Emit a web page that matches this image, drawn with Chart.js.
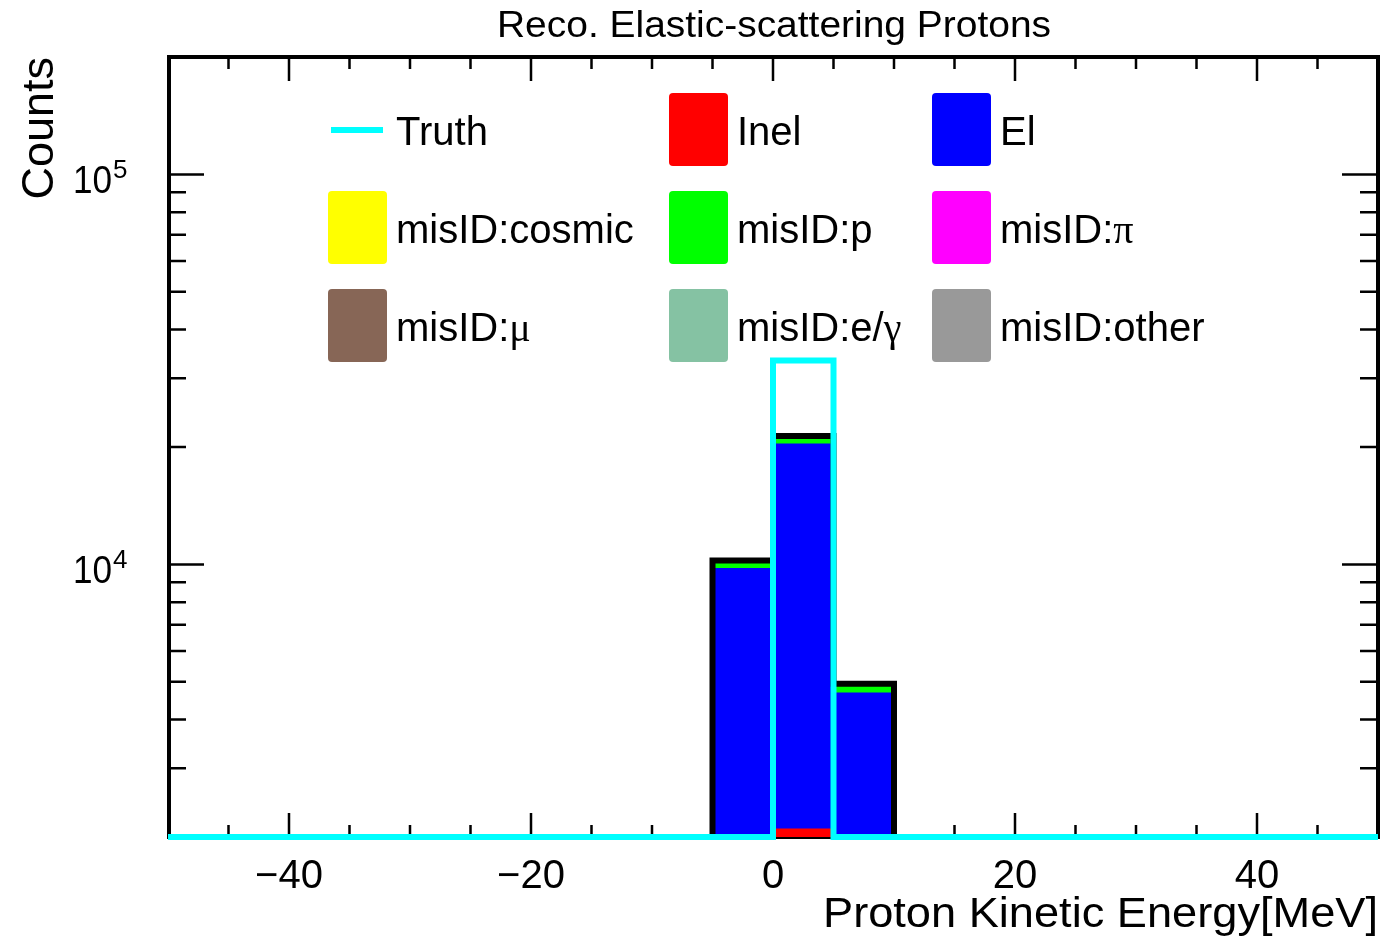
<!DOCTYPE html>
<html><head><meta charset="utf-8">
<script src="https://cdn.jsdelivr.net/npm/chart.js@4.4.1/dist/chart.umd.min.js"></script>
<style>html,body{margin:0;padding:0;background:#fff;}#wrap{width:1384px;height:940px;}</style>
</head><body><div id="wrap"><canvas id="c" width="1384" height="940"></canvas></div>
<script>
// ---- data ----
const binCenters = [-47.5,-42.5,-37.5,-32.5,-27.5,-22.5,-17.5,-12.5,-7.5,-2.5,2.5,7.5,12.5,17.5,22.5,27.5,32.5,37.5,42.5,47.5];
const binLowEdges = [-50,-45,-40,-35,-30,-25,-20,-15,-10,-5,0,5,10,15,20,25,30,35,40,45];
const xMaxEdge = 50;
const inel        = [0,0,0,0,0,0,0,0,0,0,2100,0,0,0,0,0,0,0,0,0];
const el          = [0,0,0,0,0,0,0,0,0,9770,18270,4685,0,0,0,0,0,0,0,0];
const misIDcosmic = [0,0,0,0,0,0,0,0,0,0,0,0,0,0,0,0,0,0,0,0];
const misIDp      = [0,0,0,0,0,0,0,0,0,470,980,255,0,0,0,0,0,0,0,0];
const misIDpi     = [0,0,0,0,0,0,0,0,0,0,0,0,0,0,0,0,0,0,0,0];
const misIDmu     = [0,0,0,0,0,0,0,0,0,0,0,0,0,0,0,0,0,0,0,0];
const misIDegamma = [0,0,0,0,0,0,0,0,0,0,0,0,0,0,0,0,0,0,0,0];
const misIDother  = [0,0,0,0,0,0,0,0,0,0,0,0,0,0,0,0,0,0,0,0];
const truth       = [0,0,0,0,0,0,0,0,0,0,33340,0,0,0,0,0,0,0,0,0];
const xTickLabels = ['\u221240','\u221220','0','20','40'];
const xTickValues = [-40,-20,0,20,40];
const yTickExponents = [4,5];
const yMin = 2000, yMax = 200000;

// ---- styles ----
const stackDefs = [
  ['Inel', inel, '#ff0000'],
  ['El', el, '#0000ff'],
  ['misID:cosmic', misIDcosmic, '#ffff00'],
  ['misID:p', misIDp, '#00ff00'],
  ['misID:\u03c0', misIDpi, '#ff00ff'],
  ['misID:\u03bc', misIDmu, '#876656'],
  ['misID:e/\u03b3', misIDegamma, '#85c2a3'],
  ['misID:other', misIDother, '#999999']
];
const total = binCenters.map((_, i) => stackDefs.reduce((s, d) => s + d[1][i], 0));
// histogram outline: empty bins sit on the axis floor (as ROOT draws them on a log axis)
function stepPoints(arr) {
  const pts = binLowEdges.map((x, i) => ({x, y: arr[i] > 0 ? arr[i] : yMin}));
  pts.push({x: xMaxEdge, y: arr[arr.length - 1] > 0 ? arr[arr.length - 1] : yMin});
  return pts;
}

const datasets = stackDefs.map(d => ({
  type: 'bar', label: d[0],
  data: binCenters.map((x, i) => ({x, y: d[1][i]})).filter(p => p.y > 0),
  backgroundColor: d[2], borderWidth: 0,
  barPercentage: 1, categoryPercentage: 1, order: 2, stack: 'mc'
}));
datasets.push({type: 'line', label: 'total', data: stepPoints(total), borderColor: '#000', borderWidth: 6,
  stepped: true, pointRadius: 0, fill: false, order: 1, stack: 'total', clip: false, borderJoinStyle: 'miter'});
datasets.push({type: 'line', label: 'Truth', data: stepPoints(truth), borderColor: '#00ffff', borderWidth: 6,
  stepped: true, pointRadius: 0, fill: false, order: 0, stack: 'truth', clip: false, borderJoinStyle: 'miter'});

const legendItems = [
  {label: 'Truth', line: '#00ffff', col: 0, row: 0},
  {label: 'Inel', color: '#ff0000', col: 1, row: 0},
  {label: 'El', color: '#0000ff', col: 2, row: 0},
  {label: 'misID:cosmic', color: '#ffff00', col: 0, row: 1},
  {label: 'misID:p', color: '#00ff00', col: 1, row: 1},
  {label: 'misID:', greek: '\u03c0', color: '#ff00ff', col: 2, row: 1},
  {label: 'misID:', greek: '\u03bc', color: '#876656', col: 0, row: 2},
  {label: 'misID:e/', greek: '\u03b3', color: '#85c2a3', col: 1, row: 2},
  {label: 'misID:other', color: '#999999', col: 2, row: 2}
];
const legendColX = [328, 669, 932];
const legendRowY = [130, 228, 326];
const SANS = '"Liberation Sans", Arial, Helvetica, sans-serif';
const SERIF = '"Liberation Serif", "DejaVu Serif", serif';

function fitText(ctx, text, x, y, size, width, align) {
  ctx.save();
  ctx.font = size + 'px ' + SANS;
  const w = ctx.measureText(text).width;
  const sx = width / w;
  ctx.translate(x, y);
  ctx.scale(sx, 1);
  ctx.textAlign = align;
  ctx.fillText(text, 0, 0);
  ctx.restore();
}

const rootPlugin = {
  id: 'rootStyle',
  beforeDatasetsDraw(chart) {
    const {ctx, chartArea: ca, scales: {x, y}} = chart;
    ctx.save();
    ctx.strokeStyle = '#000';
    ctx.lineWidth = 2.5;
    ctx.beginPath();
    for (let v = -45; v <= 45; v += 5) {
      const px = x.getPixelForValue(v);
      const len = (v % 20 === 0) ? 24 : 12;
      ctx.moveTo(px, ca.bottom); ctx.lineTo(px, ca.bottom - len);
      ctx.moveTo(px, ca.top); ctx.lineTo(px, ca.top + len);
    }
    for (let e = 3; e <= 5; e++) {
      for (let m = 1; m <= 9; m++) {
        const v = m * Math.pow(10, e);
        if (v <= yMin || v >= yMax) continue;
        const py = y.getPixelForValue(v);
        const len = (m === 1) ? 36 : 18;
        ctx.moveTo(ca.left, py); ctx.lineTo(ca.left + len, py);
        ctx.moveTo(ca.right, py); ctx.lineTo(ca.right - len, py);
      }
    }
    ctx.stroke();
    ctx.lineWidth = 4;
    ctx.strokeRect(ca.left + 1, ca.top, ca.right - ca.left - 1, ca.bottom - ca.top);
    ctx.restore();
  },
  afterDatasetsDraw(chart) {
    const {ctx, chartArea: ca, scales: {x, y}} = chart;
    ctx.save();
    ctx.fillStyle = '#000';
    ctx.textBaseline = 'alphabetic';
    // x tick labels
    ctx.font = '40px ' + SANS;
    ctx.textAlign = 'center';
    xTickValues.forEach((v, i) => {
      ctx.fillText(xTickLabels[i], x.getPixelForValue(v), 888);
    });
    // y tick labels
    yTickExponents.forEach(e => {
      const py = y.getPixelForValue(Math.pow(10, e));
      ctx.font = '39px ' + SANS;
      ctx.textAlign = 'right';
      ctx.save(); ctx.translate(112, py + 19); ctx.scale(0.9, 1); ctx.fillText('10', 0, 0); ctx.restore();
      ctx.font = '26px ' + SANS;
      ctx.textAlign = 'left';
      ctx.fillText(String(e), 113, py + 4);
    });
    // title
    fitText(ctx, 'Reco. Elastic-scattering Protons', 774, 37, 37, 554, 'center');
    // x title
    fitText(ctx, 'Proton Kinetic Energy[MeV]', 1378, 927, 43, 555, 'right');
    // y title
    ctx.save();
    ctx.translate(53, 57);
    ctx.rotate(-Math.PI / 2);
    ctx.font = '45px ' + SANS;
    ctx.textAlign = 'right';
    ctx.fillText('Counts', 0, 0);
    ctx.restore();
    // legend
    legendItems.forEach(it => {
      const bx = legendColX[it.col];
      const cy = legendRowY[it.row];
      if (it.line) {
        ctx.fillStyle = it.line;
        ctx.fillRect(bx + 3, cy - 3, 52, 6);
      } else {
        ctx.fillStyle = it.color;
        ctx.beginPath();
        ctx.roundRect(bx, cy - 37, 59, 73, 4);
        ctx.fill();
      }
      ctx.fillStyle = '#000';
      ctx.textAlign = 'left';
      ctx.font = '40px ' + SANS;
      const tx = bx + 68;
      ctx.fillText(it.label, tx, cy + 15);
      if (it.greek) {
        const w = ctx.measureText(it.label).width;
        ctx.font = '40px ' + SERIF;
        ctx.fillText(it.greek, tx + w, cy + 15);
      }
    });
    ctx.restore();
  }
};

new Chart(document.getElementById('c'), {
  type: 'bar',
  data: {datasets},
  options: {
    responsive: false, animation: false, devicePixelRatio: 1,
    layout: {padding: {top: 57, right: 6, left: 0, bottom: 0}},
    plugins: {legend: {display: false}, tooltip: {enabled: false}, title: {display: false}},
    scales: {
      x: {type: 'linear', min: -50, max: 50, stacked: true, offset: false,
          ticks: {display: false, stepSize: 5}, grid: {display: false}, border: {display: false},
          afterFit(s) { s.height = 103; }},
      y: {type: 'logarithmic', min: yMin, max: yMax, stacked: true,
          ticks: {display: false}, grid: {display: false}, border: {display: false},
          afterFit(s) { s.width = 168; }}
    }
  },
  plugins: [rootPlugin]
});
</script></body></html>
